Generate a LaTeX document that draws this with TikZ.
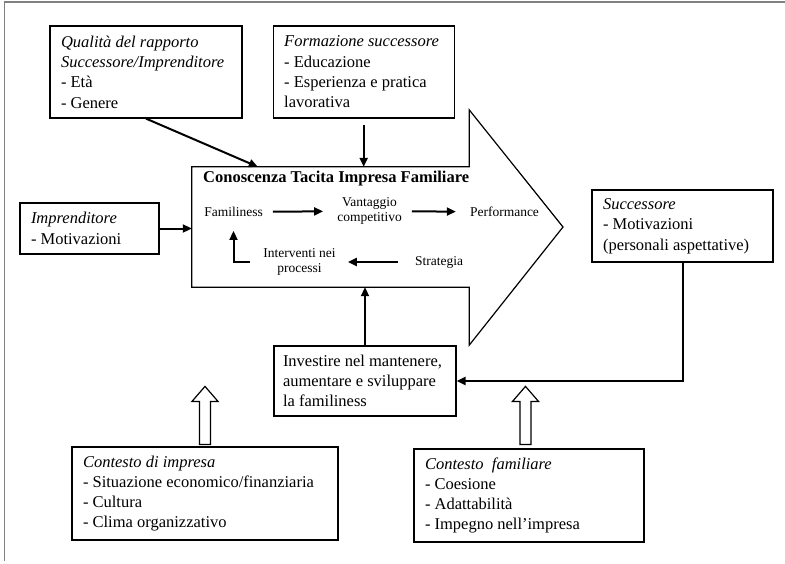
\documentclass[tikz,border=0pt]{standalone}
\usepackage{fontspec}
\setmainfont{Liberation Serif}
\usetikzlibrary{arrows.meta, positioning, calc}
\tikzstyle{scheme}=[x=1pt, y=-1pt, >={Triangle[length=9pt,width=8pt]}, font=\fontsize{16.5}{20.3}\selectfont]
\tikzstyle{box}=[draw, line width=1.2pt, align=flush left, inner xsep=11pt, inner ysep=0pt]
\tikzstyle{inner}=[font=\fontsize{13.5}{15}\selectfont, align=center, inner sep=0pt]
\tikzstyle{link}=[->, line width=2pt]
\tikzstyle{hollow}=[draw, line width=1.2pt, fill=white]

\begin{document}
\begin{tikzpicture}[scheme]
  \useasboundingbox (0,0) rectangle (785,563);
  \draw[gray, line width=1.5pt] (4.5,561) -- (4.5,2) -- (785,2);

  % big arrow
  \node[minimum width=277pt, minimum height=120pt, inner sep=0pt] (ctif) at (330.5,227) {};
  \draw[line width=1.2pt] (ctif.north west) -- (ctif.north east) -- ++(0,-57) -- (563,227)
    -- ($(ctif.south east)+(0,58)$) -- (ctif.south east) -- (ctif.south west) -- cycle;
  \node[font=\bfseries\fontsize{16.5}{20}\selectfont, inner sep=0pt, anchor=west] (title) at (203,179) {Conoscenza Tacita Impresa Familiare};

  \node[inner] (fam) at (233.5,212) {Familiness};
  \node[inner] (vant) at (369.5,211) {Vantaggio\\competitivo};
  \node[inner] (perf) at (504.5,212) {Performance};
  \node[inner] (strat) at (439,262) {Strategia};
  \node[inner] (interv) at (299.5,262) {Interventi nei\\processi};
  \path[link, shorten <=10pt, shorten >=14pt] (fam) edge (vant) (vant) edge (perf);
  \draw[link, shorten <=17pt, shorten >=12pt] (strat) -- (interv);
  \draw[link, shorten <=13pt, shorten >=14pt] (interv.west) -| (fam.south);

  % boxes
  \node[box, text width=170pt, minimum height=92pt] (qual) at (146,72)
    {\textit{Qualità del rapporto}\\\textit{Successore/Imprenditore}\\- Età\\- Genere};
  \node[box, text width=159pt, minimum height=92pt] (form) [right=30pt of qual]
    {\textit{Formazione successore}\\- Educazione\\- Esperienza e pratica\\lavorativa};
  \node[box, text width=117pt, minimum height=51pt] (imp) at (89.5,228.5)
    {\textit{Imprenditore}\\- Motivazioni};
  \node[box, text width=159pt, minimum height=72pt] (succ) at (682.5,226)
    {\textit{Successore}\\- Motivazioni\\(personali aspettative)};
  \node[box, inner xsep=9pt, text width=164pt, minimum height=70pt] (inv) at (365,381)
    {Investire nel mantenere,\\aumentare e sviluppare\\la familiness};
  \node[box, text width=244pt, minimum height=93pt] (cib) at (205,493.5)
    {\textit{Contesto di impresa}\\- Situazione economico/finanziaria\\- Cultura\\- Clima organizzativo};
  \node[box, text width=208pt, minimum height=93pt] (cfam) at (529,495.5)
    {\textit{Contesto~ familiare}\\- Coesione\\- Adattabilità\\- Impegno nell'impresa};

  % connectors
  \draw[link] (qual.south) -- ($(ctif.north west)+(66,0)$);
  \draw[link, shorten <=6pt] (form.south) -- (form.south |- ctif.north);
  \draw[link] (imp) -- (imp -| ctif.west);
  \draw[link] (inv) -- (inv |- ctif.south);
  \draw[link] (succ) |- (inv);

  % context arrows
  \draw[hollow, shift={($(cib.north)+(0,-2)$)}] (-5.5,0) -- (-5.5,-43) -- (-13,-43) -- (0,-58)
    -- (13,-43) -- (5.5,-43) -- (5.5,0) -- cycle;
  \draw[hollow, shift={($(cfam.north)+(-3.5,-4)$)}] (-5.5,0) -- (-5.5,-43) -- (-13,-43) -- (0,-58)
    -- (13,-43) -- (5.5,-43) -- (5.5,0) -- cycle;
\end{tikzpicture}
\end{document}
